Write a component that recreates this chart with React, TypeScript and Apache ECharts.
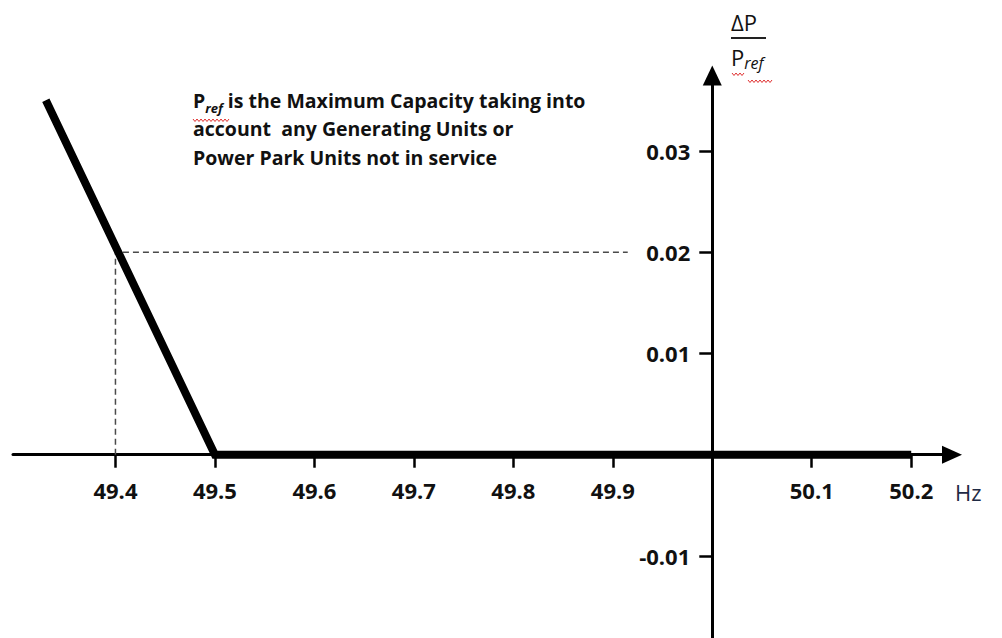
import React, { useEffect, useRef } from 'react';
import * as echarts from 'echarts';

// Frequency (Hz) / ΔP/Pref values of the droop characteristic
const droopFreq = [49.33, 49.5, 50.2];
const droopPower = [0.035, 0, 0];
// Dashed guide through (49.4 Hz, 0.02)
const guideFreq = [49.4, 49.4, 49.915];
const guidePower = [0, 0.02, 0.02];
// Axis ticks and labels
const xTicks = [49.4, 49.5, 49.6, 49.7, 49.8, 49.9, 50.1, 50.2];
const yTicks = [-0.01, 0.01, 0.02, 0.03];
const noteLines = [
  ' is the Maximum Capacity taking into',
  'account  any Generating Units or',
  'Power Park Units not in service',
];
const xName = 'Hz';

const FONT = '"Open Sans", Lato, sans-serif';
const INK = '#111111';

// pixel layout of the plotting frame
const GRID_LEFT = 13;
const GRID_RIGHT_EDGE = 952;
const GRID_TOP = 75.5;
const GRID_BOTTOM_EDGE = 638;
const X_MIN = 49.297;
const X_MAX = 50.241;
const Y_MIN = -0.0181;
const Y_MAX = 0.03745;

function wavy(x0: number, x1: number, y: number): number[][] {
  const pts: number[][] = [];
  let up = true;
  for (let x = x0; x <= x1; x += 2) {
    pts.push([x, up ? y : y + 2.5]);
    up = !up;
  }
  return pts;
}

export default function App() {
  const ref = useRef<HTMLDivElement>(null);
  useEffect(() => {
    if (!ref.current) return;
    const chart = echarts.init(ref.current, undefined, { renderer: 'svg' });
    const gridW = GRID_RIGHT_EDGE - GRID_LEFT;
    const gridH = GRID_BOTTOM_EDGE - GRID_TOP;
    // where the crossing axes sit (value 50.0 Hz on x, 0 on y)
    const yAxisPx = GRID_LEFT + ((50 - X_MIN) / (X_MAX - X_MIN)) * gridW;
    const xAxisPx = GRID_TOP + ((Y_MAX - 0) / (Y_MAX - Y_MIN)) * gridH;

    const axisLineStyle = { color: '#000', width: 3 };
    const labelStyle = {
      fontFamily: FONT,
      fontWeight: 'bold' as const,
      fontSize: 22,
      color: INK,
    };
    const noteRich = {
      b: { fontFamily: FONT, fontWeight: 'bold', fontSize: 19.5, lineHeight: 28.5, fill: INK },
      s: {
        fontFamily: FONT,
        fontWeight: 'bold',
        fontStyle: 'italic',
        fontSize: 13,
        lineHeight: 14,
        verticalAlign: 'bottom',
        fill: INK,
      },
    };
    chart.setOption({
      animation: false,
      backgroundColor: '#ffffff',
      grid: {
        left: GRID_LEFT,
        right: 1002 - GRID_RIGHT_EDGE,
        top: GRID_TOP,
        bottom: 638 - GRID_BOTTOM_EDGE,
        containLabel: false,
        outerBoundsMode: 'none',
      },
      xAxis: {
        type: 'value',
        min: X_MIN,
        max: X_MAX,
        position: 'bottom',
        offset: -(GRID_BOTTOM_EDGE - xAxisPx),
        axisLine: {
          onZero: false,
          lineStyle: axisLineStyle,
          symbol: ['none', 'triangle'],
          symbolSize: [18, 20],
        },
        axisTick: { show: true, length: 13, customValues: xTicks, lineStyle: { width: 2.5, color: '#000' } },
        axisLabel: {
          customValues: xTicks,
          formatter: (v: number) => v.toFixed(1),
          margin: 24,
          ...labelStyle,
        },
        splitLine: { show: false },
      },
      yAxis: {
        type: 'value',
        min: Y_MIN,
        max: Y_MAX,
        position: 'left',
        offset: -(yAxisPx - GRID_LEFT),
        axisLine: {
          onZero: false,
          lineStyle: axisLineStyle,
          symbol: ['none', 'triangle'],
          symbolSize: [19, 20],
        },
        axisTick: { show: true, length: 13, customValues: yTicks, lineStyle: { width: 2.5, color: '#000' } },
        axisLabel: {
          customValues: yTicks,
          formatter: (v: number) => v.toFixed(2),
          margin: 22,
          ...labelStyle,
        },
        splitLine: { show: false },
      },
      series: [
        {
          type: 'line',
          data: guideFreq.map((f, i) => [f, guidePower[i]]),
          symbol: 'none',
          lineStyle: { color: '#4a4a4a', width: 1.5, type: [6, 4] },
          z: 2,
          silent: true,
        },
        {
          type: 'line',
          data: droopFreq.map((f, i) => [f, droopPower[i]]),
          symbol: 'none',
          lineStyle: { color: '#000', width: 8, cap: 'butt', join: 'miter' },
          z: 3,
          silent: true,
        },
      ],
      graphic: [
        {
          type: 'text',
          left: 193,
          top: 90,
          style: {
            text:
              '{b|P}{s|ref}{b|' + noteLines[0] + '}\n{b|' + noteLines[1] + '}\n{b|' + noteLines[2] + '}',
            rich: noteRich,
          },
        },
        {
          type: 'text',
          x: 731,
          y: 11,
          style: { text: 'ΔP', fontFamily: FONT, fontSize: 22, fill: INK },
        },
        {
          type: 'line',
          shape: { x1: 731, y1: 38, x2: 766, y2: 38 },
          style: { stroke: '#222', lineWidth: 2 },
        },
        {
          type: 'text',
          x: 731,
          y: 43,
          style: {
            text: '{p|P}{s|ref}',
            rich: {
              p: { fontFamily: FONT, fontSize: 22, lineHeight: 28, fill: INK },
              s: {
                fontFamily: FONT,
                fontSize: 16,
                fontStyle: 'italic',
                lineHeight: 18,
                verticalAlign: 'bottom',
                fill: INK,
              },
            },
          },
        },
        {
          type: 'text',
          x: 955,
          y: 481,
          style: { text: xName, fontFamily: FONT, fontSize: 22, fill: '#1f2a44' },
        },
        { type: 'polyline', shape: { points: wavy(193, 230, 119) }, style: { stroke: '#e03030', lineWidth: 1, fill: null } },
        { type: 'polyline', shape: { points: wavy(732, 745, 73) }, style: { stroke: '#e03030', lineWidth: 1, fill: null } },
        { type: 'polyline', shape: { points: wavy(748, 772, 80) }, style: { stroke: '#e03030', lineWidth: 1, fill: null } },
      ],
    });
    return () => chart.dispose();
  }, []);
  return (
    <div
      ref={ref}
      style={{ position: 'absolute', left: 0, top: 0, width: 1002, height: 638, background: '#fff' }}
    />
  );
}
